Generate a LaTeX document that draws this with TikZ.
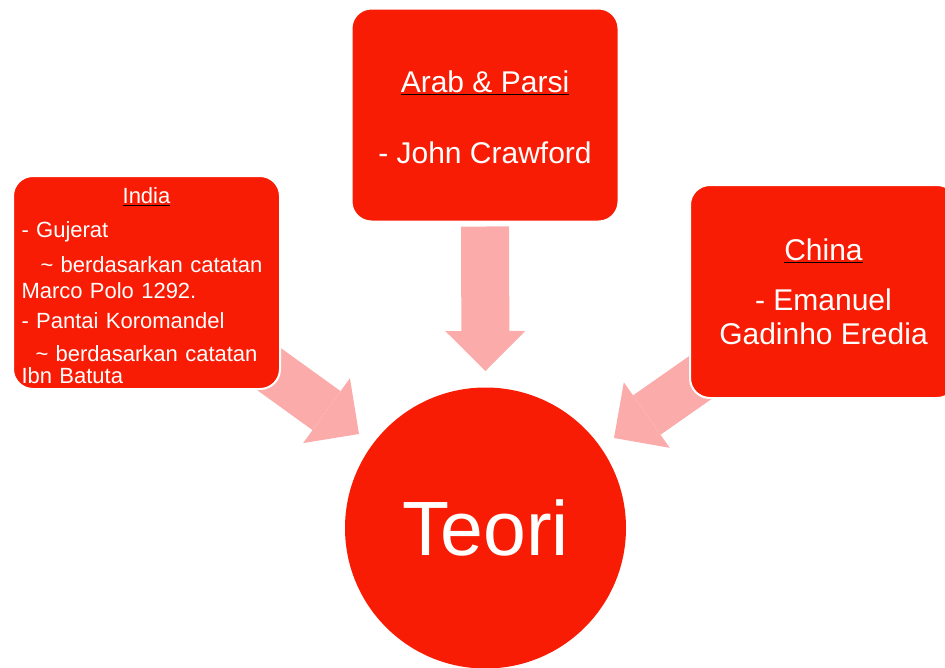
\documentclass[tikz,border=0pt]{standalone}
\usepackage{fontspec}
\setmainfont{Liberation Sans}
\usetikzlibrary{arrows.meta,calc}
\definecolor{boxred}{RGB}{248,28,4}
\definecolor{arrowpink}{RGB}{251,172,170}
\newcommand{\ulhead}[1]{{\color{black}\underline{\color{white}#1}}}
\pgfdeclarelayer{bg}
\pgfsetlayers{bg,main}
\tikzset{
  theorybox/.style={draw=white, line width=2pt, fill=boxred, rounded corners=20pt,
    text=white, inner sep=0pt, minimum width=267pt, minimum height=213pt},
  bigtext/.style={font=\fontsize{30}{36}\selectfont, align=center},
  smalltext/.style={font=\fontsize{22}{24}\selectfont, text width=250pt, align=left},
  bigarrow/.style={draw=arrowpink, line width=48pt,
    -{Triangle[length=40pt,width=80pt,line width=0pt]}}
}
\begin{document}
\begin{tikzpicture}[x=1pt,y=-1pt]
  \useasboundingbox (0,0) rectangle (945,667);
  % the three sources
  \node[theorybox, bigtext] (arab) at (485,115)
    {\rule{0pt}{26pt}\ulhead{Arab \& Parsi}\\[35pt]- John Crawford};
  \node[theorybox, smalltext] (india) at (146.5,282.5)
    {\rule{0pt}{22pt}\makebox[250pt]{\ulhead{India}}\\[10pt]
     - Gujerat\\[11pt]
     \hspace*{19pt}\textasciitilde{} berdasarkan catatan\\[2pt]
     Marco Polo 1292.\\[6pt]
     - Pantai Koromandel\\[9pt]
     \hspace*{14pt}\textasciitilde{} berdasarkan catatan\\[-2pt]
     Ibn Batuta};
  \node[theorybox, bigtext] (china) at (823.5,291.5)
    {\ulhead{China}\\[14pt]- Emanuel\\[-2pt]Gadinho Eredia};
  % centre
  \node[circle, fill=boxred, minimum size=281pt, inner sep=0pt, text=white,
    font=\fontsize{77}{90}\selectfont] (teori) at (485.5,528) {Teori};
  % arrows behind the boxes
  \begin{pgfonlayer}{bg}
    \coordinate (tipA) at ($(teori.center)+(0,-157)$);
    \coordinate (tipI) at ($(teori.center)+(-126.5,-94)$);
    \coordinate (tipC) at ($(teori.center)+(128.5,-90)$);
    \draw[bigarrow] ($(arab.south)+(0,4)$) -- (tipA);
    \draw[bigarrow] ($(india.south east)+(-51,-49)$) -- (tipI);
    \draw[bigarrow] ($(china.south west)+(55,-52)$) -- (tipC);
  \end{pgfonlayer}
\end{tikzpicture}
\end{document}
